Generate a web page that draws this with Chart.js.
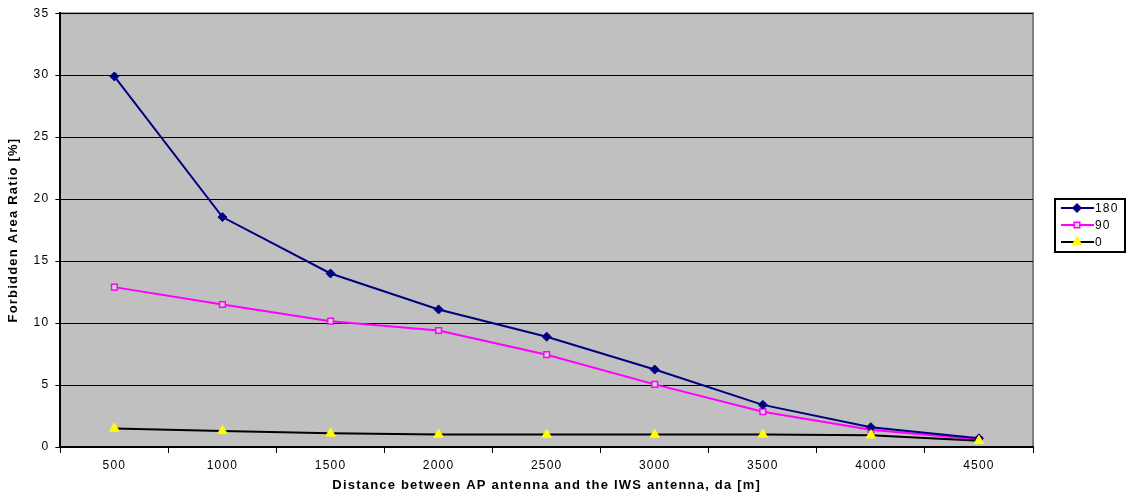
<!DOCTYPE html>
<html>
<head>
<meta charset="utf-8">
<script src="https://cdn.jsdelivr.net/npm/chart.js@4"></script>
<style>
  html, body { margin: 0; padding: 0; background: #fff; }
  #wrap { width: 1131px; height: 497px; position: relative; }
</style>
</head>
<body>
<div id="wrap"><canvas id="chart"></canvas></div>
<script>
const distances = ['500', '1000', '1500', '2000', '2500', '3000', '3500', '4000', '4500'];
const ratio180 = [29.9, 18.55, 14.0, 11.1, 8.9, 6.25, 3.4, 1.6, 0.7];
const ratio90 = [12.9, 11.5, 10.15, 9.4, 7.45, 5.05, 2.85, 1.4, 0.6];
const ratio0 = [1.5, 1.3, 1.1, 1.0, 1.0, 1.0, 1.0, 0.95, 0.5];
const seriesNames = ['180', '90', '0'];

const FONT = 'Liberation Sans, Arial, sans-serif';
const tickFont = { family: FONT, size: 12 };
const titleFont = { family: FONT, size: 13, weight: 'bold' };
const SPACING = '1.2px';

// the original text is letter-spaced; canvas state is reset on resize, so set it on every pass
const spacing = {
    id: 'spacing',
    beforeUpdate(chart) { chart.ctx.letterSpacing = SPACING; },
    beforeLayout(chart) { chart.ctx.letterSpacing = SPACING; },
    beforeDraw(chart) { chart.ctx.letterSpacing = SPACING; }
};

// gray plot background + gray top/right frame
const plotFrame = {
    id: 'plotFrame',
    beforeDraw(chart) {
        const { ctx, chartArea: a } = chart;
        ctx.save();
        ctx.fillStyle = '#c0c0c0';
        ctx.fillRect(a.left, a.top, a.right - a.left, a.bottom - a.top);
        ctx.strokeStyle = '#808080';
        ctx.lineWidth = 2;
        ctx.beginPath();
        ctx.moveTo(a.left, a.top);
        ctx.lineTo(a.right, a.top);
        ctx.lineTo(a.right, a.bottom);
        ctx.stroke();
        ctx.restore();
    }
};

// boxed legend like the original, to the right of the plot
const boxLegend = {
    id: 'boxLegend',
    afterDraw(chart) {
        const { ctx } = chart;
        const x = 1055, y = 199, w = 70, h = 53;
        ctx.save();
        ctx.fillStyle = '#fff';
        ctx.fillRect(x, y, w, h);
        ctx.strokeStyle = '#000';
        ctx.lineWidth = 2;
        ctx.strokeRect(x, y, w, h);
        ctx.font = '12px ' + FONT;
        ctx.textBaseline = 'middle';
        chart.data.datasets.forEach((ds, i) => {
            const cy = y + 9 + i * 17;
            ctx.strokeStyle = ds.borderColor;
            ctx.lineWidth = 2;
            ctx.beginPath();
            ctx.moveTo(x + 6, cy);
            ctx.lineTo(x + 39, cy);
            ctx.stroke();
            ctx.fillStyle = ds.pointBackgroundColor;
            ctx.strokeStyle = ds.pointBorderColor;
            ctx.lineWidth = ds.pointBorderWidth;
            Chart.helpers.drawPoint(ctx, {
                pointStyle: ds.pointStyle,
                radius: ds.pointRadius,
                borderWidth: ds.pointBorderWidth
            }, x + 22, cy);
            ctx.fillStyle = '#000';
            ctx.fillText(ds.label, x + 40, cy + 1);
        });
        ctx.restore();
    }
};

new Chart(document.getElementById('chart'), {
    type: 'line',
    data: {
        labels: distances,
        datasets: [
            {
                label: seriesNames[0], data: ratio180,
                borderColor: '#000080', borderWidth: 2,
                pointStyle: 'rectRot', pointRadius: 4.5,
                pointBackgroundColor: '#000080', pointBorderColor: '#000080', pointBorderWidth: 1,
                order: 1
            },
            {
                label: seriesNames[1], data: ratio90,
                borderColor: '#ff00ff', borderWidth: 2,
                pointStyle: 'rect', pointRadius: 4,
                pointBackgroundColor: '#d8d8d8', pointBorderColor: '#ff00ff', pointBorderWidth: 1.5,
                order: 2
            },
            {
                label: seriesNames[2], data: ratio0,
                borderColor: '#000000', borderWidth: 2,
                pointStyle: 'triangle', pointRadius: 5.5,
                pointBackgroundColor: '#ffff00', pointBorderColor: '#ffff00', pointBorderWidth: 1,
                order: 0
            }
        ]
    },
    options: {
        responsive: true,
        maintainAspectRatio: false,
        animation: false,
        layout: { padding: { top: 6, right: 98, left: 6, bottom: 4 } },
        plugins: {
            legend: { display: false },
            tooltip: { enabled: false }
        },
        elements: { line: { tension: 0 } },
        scales: {
            x: {
                offset: true,
                grid: { display: true, drawOnChartArea: false, drawTicks: true, tickLength: 6, color: '#000', offset: true },
                border: { color: '#000', width: 2 },
                ticks: { color: '#000', font: tickFont, padding: 5, maxRotation: 0 },
                title: {
                    display: true,
                    text: 'Distance between AP antenna and the IWS antenna, da [m]',
                    color: '#000', font: titleFont, padding: { top: 0, bottom: 0 }
                }
            },
            y: {
                min: 0, max: 35,
                ticks: { stepSize: 5, color: '#000', font: tickFont, padding: 6 },
                grid: { color: '#000', lineWidth: 1, drawTicks: true, tickLength: 5 },
                border: { color: '#000', width: 2 },
                title: {
                    display: true,
                    text: 'Forbidden Area Ratio [%]',
                    color: '#000', font: titleFont, padding: { top: 0, bottom: 6 }
                }
            }
        }
    },
    plugins: [spacing, plotFrame, boxLegend]
});
</script>
</body>
</html>
